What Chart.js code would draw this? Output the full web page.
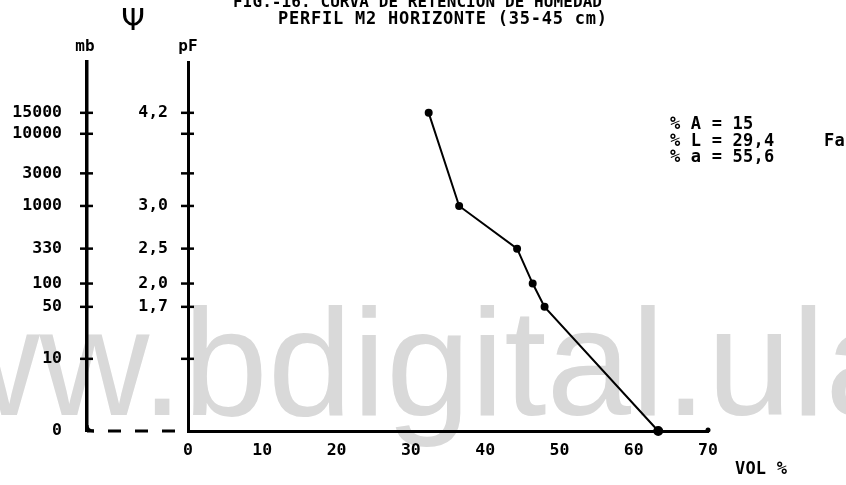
<!DOCTYPE html>
<html>
<head>
<meta charset="utf-8">
<script src="https://cdn.jsdelivr.net/npm/chart.js@4/dist/chart.umd.min.js"></script>
<style>
  html, body { margin: 0; padding: 0; background: #fff; }
  canvas { display: block; }
</style>
</head>
<body>
<canvas id="curva" width="846" height="485"></canvas>
<script>
// contenido de agua (VOL %) de cada punto de la curva
let humedad = [32.4, 36.5, 44.3, 46.4, 48.0, 63.3]
// succion de cada punto, en la posicion pF del eje
let succion = [4.2, 3.0, 2.45, 2.0, 1.7, 0.1]

// marcas del eje de succion (mismas posiciones para mb y pF)
let posTicks = [0.1, 1.03, 1.7, 2.0, 2.45, 3.0, 3.42, 3.93, 4.2]
let mbLabels = ['0', '10', '50', '100', '330', '1000', '3000', '10000', '15000']
let pfLabels = ['', '', '1,7', '2,0', '2,5', '3,0', '', '', '4,2']
let volTicks = [0, 10, 20, 30, 40, 50, 60, 70]

let titulo1 = 'FIG.-16. CURVA DE RETENCION DE HUMEDAD'
let titulo2 = 'PERFIL M2 HORIZONTE (35-45 cm)'
let textura = ['% A = 15', '% L = 29,4', '% a = 55,6']

const mono = '"DejaVu Sans Mono"'

// texto repartido entre dos x (letra de maquina)
function repartir(ctx, txt, x0, x1, y) {
  ctx.letterSpacing = '0px'
  let w = ctx.measureText(txt).width
  let esp = (x1 - x0 - w) / (txt.length - 1)
  ctx.letterSpacing = esp + 'px'
  ctx.textAlign = 'left'
  ctx.fillText(txt, x0, y)
  ctx.letterSpacing = '0px'
}

const decorado = {
  id: 'decorado',
  beforeDraw(chart) {
    const ctx = chart.ctx
    ctx.save()
    ctx.fillStyle = '#fff'
    ctx.fillRect(0, 0, chart.width, chart.height)
    ctx.font = '152px "Liberation Sans"'
    ctx.fillStyle = '#d9d9d9'
    ctx.textBaseline = 'alphabetic'
    ctx.fillText('www.bdigital.ula', -180, 415)
    ctx.restore()
  },
  afterDraw(chart) {
    const ctx = chart.ctx
    const area = chart.chartArea
    const mb = chart.scales.mb
    const pf = chart.scales.pf
    ctx.save()
    ctx.strokeStyle = '#000'
    ctx.fillStyle = '#000'

    // cruces de las marcas
    ctx.lineWidth = 2.5
    ;[[mb, mb.right], [pf, area.left]].forEach(([sc, x]) => {
      sc.ticks.forEach((t, i) => {
        if (i == 0) return
        let y = sc.getPixelForValue(t.value)
        ctx.beginPath()
        ctx.moveTo(x - 7, y)
        ctx.lineTo(x + 6, y)
        ctx.stroke()
      })
    })

    // esquina y trazos entre los dos ejes
    let yb = area.bottom
    ctx.lineWidth = 3
    ctx.beginPath()
    ctx.moveTo(mb.right, yb - 6)
    ctx.quadraticCurveTo(mb.right, yb, mb.right + 7, yb)
    ctx.stroke()
    ctx.setLineDash([13, 14])
    ctx.lineDashOffset = -21
    ctx.beginPath()
    ctx.moveTo(mb.right, yb)
    ctx.lineTo(area.left - 4, yb)
    ctx.stroke()
    ctx.setLineDash([])

    // punta del eje VOL %
    ctx.beginPath()
    ctx.arc(area.right, yb - 1, 2.5, 0, Math.PI * 2)
    ctx.fill()

    ctx.textBaseline = 'alphabetic'
    ctx.font = 'bold 16px ' + mono
    repartir(ctx, titulo1, 233, 602, 7)
    ctx.font = 'bold 17px ' + mono
    repartir(ctx, titulo2, 278, 607, 24)

    ctx.textAlign = 'center'
    ctx.textBaseline = 'middle'
    ctx.font = '30px "DejaVu Sans"'
    ctx.fillText('\u03A8', 133, 22)
    ctx.font = 'bold 16px ' + mono
    ctx.fillText('mb', mb.right - 2, 47)
    ctx.fillText('pF', area.left, 47)

    ctx.textBaseline = 'middle'
    ctx.font = 'bold 17px ' + mono
    ctx.letterSpacing = '0.2px'
    ctx.textAlign = 'left'
    textura.forEach((t, i) => ctx.fillText(t, 670, 125 + i * 16.5))
    ctx.fillText('Fa', 824, 142)
    ctx.fillText('VOL %', 735, 470)
    ctx.restore()
  }
}

const config = {
  type: 'scatter',
  data: {
    datasets: [{
      data: humedad.map((v, i) => ({x: v, y: succion[i]})),
      xAxisID: 'x',
      yAxisID: 'pf',
      showLine: true,
      borderColor: '#000',
      borderWidth: 2,
      pointRadius: [3, 3, 3, 3, 3, 4],
      pointBackgroundColor: '#000',
      pointBorderColor: '#000',
      clip: false
    }]
  },
  options: {
    responsive: false,
    animation: false,
    events: [],
    layout: { padding: { top: 62, right: 138, bottom: 0, left: 0 } },
    plugins: { legend: { display: false }, tooltip: { enabled: false } },
    scales: {
      x: {
        type: 'linear',
        min: 0,
        max: 70,
        afterBuildTicks: sc => { sc.ticks = volTicks.map(v => ({value: v})) },
        afterFit: sc => { sc.height = 54 },
        grid: { display: false, drawTicks: false },
        border: { display: true, color: '#000', width: 3 },
        ticks: { color: '#000', padding: 10, font: { family: mono, weight: 'bold', size: 16.5 } }
      },
      pf: {
        type: 'linear',
        position: 'left',
        weight: 0,
        min: 0.1,
        max: 4.855,
        afterBuildTicks: sc => { sc.ticks = posTicks.map(v => ({value: v})) },
        afterFit: sc => { sc.width = 101 },
        grid: { display: false, drawTicks: false },
        border: { display: true, color: '#000', width: 3 },
        ticks: {
          color: '#000', padding: 20, autoSkip: false,
          font: { family: mono, weight: 'bold', size: 16.5 },
          callback: (v, i) => pfLabels[i]
        }
      },
      mb: {
        type: 'linear',
        position: 'left',
        weight: 1,
        min: 0.1,
        max: 4.855,
        afterBuildTicks: sc => { sc.ticks = posTicks.map(v => ({value: v})) },
        afterFit: sc => { sc.width = 87 },
        grid: { display: false, drawTicks: false },
        border: { display: true, color: '#000', width: 3.5 },
        ticks: {
          color: '#000', padding: 25, autoSkip: false,
          font: { family: mono, weight: 'bold', size: 16.5 },
          callback: (v, i) => mbLabels[i]
        }
      }
    }
  },
  plugins: [decorado]
}

window.onload = function () {
  new Chart(document.getElementById('curva'), config)
}
</script>
</body>
</html>
